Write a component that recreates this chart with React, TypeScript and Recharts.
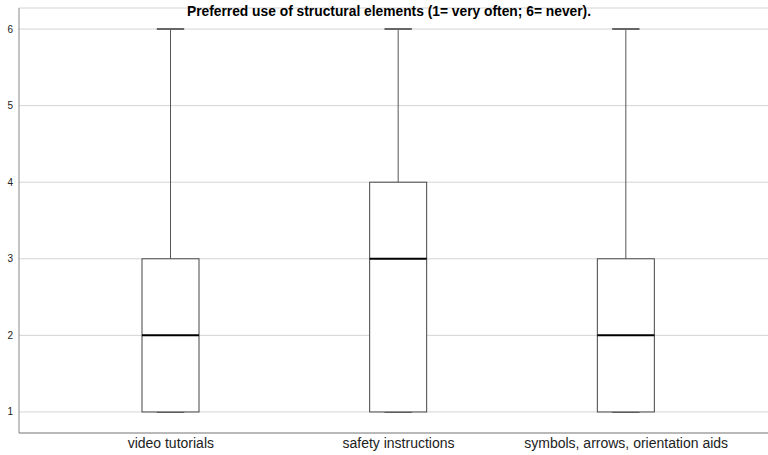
import React from 'react';
import { ComposedChart, Bar, XAxis, YAxis, CartesianGrid } from 'recharts';

// Box plot summaries
const categories = ['video tutorials', 'safety instructions', 'symbols, arrows, orientation aids'];
const minValues = [1, 1, 1];
const q1Values = [1, 1, 1];
const medianValues = [2, 3, 2];
const q3Values = [3, 4, 3];
const maxValues = [6, 6, 6];
const yTicks = [1, 2, 3, 4, 5, 6];

const data = categories.map((name, i) => ({
  name,
  min: minValues[i],
  q1: q1Values[i],
  median: medianValues[i],
  q3: q3Values[i],
  max: maxValues[i],
  range: [minValues[i], maxValues[i]],
}));

const BoxShape = (props: any) => {
  const { x, y, width, height, payload } = props;
  const { min, q1, median, q3, max } = payload;
  // map a value inside the bar's [min, max] pixel span
  const py = (v: number) => y + (height * (max - v)) / (max - min);
  const cx = x + width / 2;
  const capHalf = width * 0.24;
  return (
    <g>
      <line x1={cx} x2={cx} y1={py(max)} y2={py(q3)} stroke="#555" strokeWidth={1} />
      <line x1={cx} x2={cx} y1={py(q1)} y2={py(min)} stroke="#555" strokeWidth={1} />
      <line x1={cx - capHalf} x2={cx + capHalf} y1={py(max)} y2={py(max)} stroke="#666" strokeWidth={2} />
      <line x1={cx - capHalf} x2={cx + capHalf} y1={py(min)} y2={py(min)} stroke="#666" strokeWidth={2} />
      <rect
        x={x}
        y={py(q3)}
        width={width}
        height={py(q1) - py(q3)}
        fill="#fff"
        stroke="#444"
        strokeWidth={1}
      />
      <line x1={x} x2={x + width} y1={py(median)} y2={py(median)} stroke="#000" strokeWidth={2} />
    </g>
  );
};

const App: React.FC = () => {
  return (
    <div style={{ position: 'absolute', left: 0, top: 0, width: 768, height: 455, background: '#fff' }}>
      <div
        style={{
          position: 'absolute',
          left: 5,
          top: 4,
          width: 768,
          textAlign: 'center',
          fontFamily: '"Liberation Sans", Arial, sans-serif',
          fontWeight: 'bold',
          fontSize: 13.8,
          color: '#000',
          zIndex: 2,
        }}
      >
        Preferred use of structural elements (1= very often; 6= never).
      </div>
      <ComposedChart
        width={768}
        height={455}
        data={data}
        margin={{ top: 8, right: 0, bottom: 0, left: 0 }}
        style={{ fontFamily: '"Liberation Sans", Arial, sans-serif' }}
      >
        <CartesianGrid vertical={false} stroke="#d4d4d4" />
        <XAxis
          dataKey="name"
          height={22}
          padding={{ left: 38, right: 28 }}
          axisLine={{ stroke: '#888' }}
          tickLine={false}
          tickSize={0}
          tickMargin={5}
          tick={{ fontSize: 14, fill: '#222' }}
          interval={0}
        />
        <YAxis
          width={19}
          domain={[0.725, 6.275]}
          ticks={yTicks}
          allowDataOverflow
          axisLine={{ stroke: '#888' }}
          tickLine={false}
          tickSize={0}
          tickMargin={6}
          tick={{ fontSize: 10, fill: '#222' }}
        />
        <Bar dataKey="range" barSize={57} shape={<BoxShape />} isAnimationActive={false} />
      </ComposedChart>
    </div>
  );
};

export default App;
